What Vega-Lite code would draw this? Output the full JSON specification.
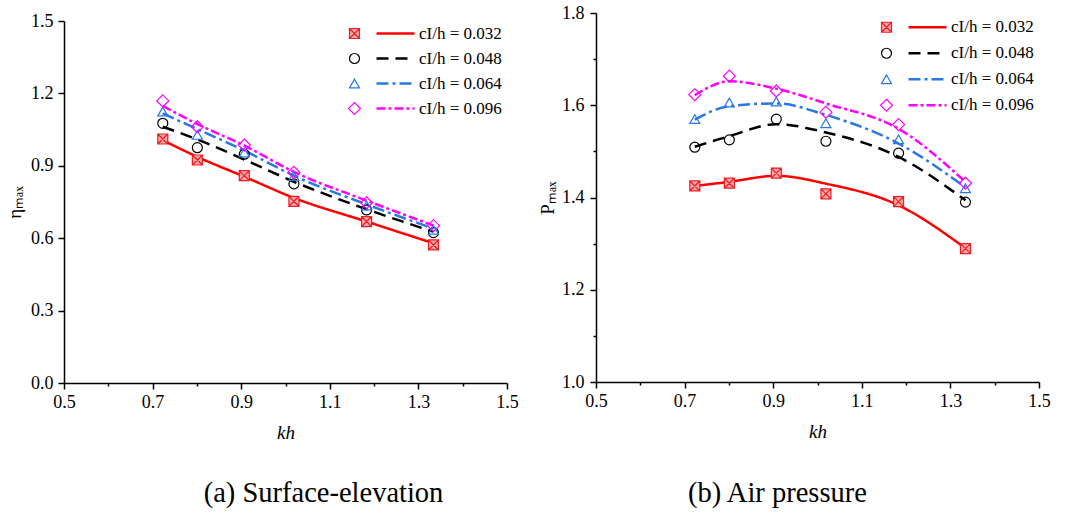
{
  "$schema": "https://vega.github.io/schema/vega-lite/v6.json",
  "background": "white",
  "padding": {"left": 5, "top": 4, "right": 5, "bottom": 5},
  "spacing": 19,
  "datasets": {
    "etaPts": [
      {"kh": 0.723, "v": 1.011, "case": "0.032"}, {"kh": 0.801, "v": 0.924, "case": "0.032"}, {"kh": 0.907, "v": 0.859, "case": "0.032"}, {"kh": 1.019, "v": 0.753, "case": "0.032"}, {"kh": 1.183, "v": 0.669, "case": "0.032"}, {"kh": 1.334, "v": 0.572, "case": "0.032"},
      {"kh": 0.723, "v": 1.076, "case": "0.048"}, {"kh": 0.801, "v": 0.975, "case": "0.048"}, {"kh": 0.907, "v": 0.948, "case": "0.048"}, {"kh": 1.019, "v": 0.825, "case": "0.048"}, {"kh": 1.183, "v": 0.717, "case": "0.048"}, {"kh": 1.334, "v": 0.623, "case": "0.048"},
      {"kh": 0.723, "v": 1.125, "case": "0.064"}, {"kh": 0.801, "v": 1.028, "case": "0.064"}, {"kh": 0.907, "v": 0.955, "case": "0.064"}, {"kh": 1.019, "v": 0.857, "case": "0.064"}, {"kh": 1.183, "v": 0.735, "case": "0.064"}, {"kh": 1.334, "v": 0.635, "case": "0.064"},
      {"kh": 0.723, "v": 1.169, "case": "0.096"}, {"kh": 0.801, "v": 1.062, "case": "0.096"}, {"kh": 0.907, "v": 0.986, "case": "0.096"}, {"kh": 1.019, "v": 0.873, "case": "0.096"}, {"kh": 1.183, "v": 0.747, "case": "0.096"}, {"kh": 1.334, "v": 0.652, "case": "0.096"}
    ],
    "etaFit": [
      {"kh": 0.723, "v": 1.006, "curve": "cI/h = 0.032"}, {"kh": 0.801, "v": 0.937, "curve": "cI/h = 0.032"}, {"kh": 0.907, "v": 0.855, "curve": "cI/h = 0.032"}, {"kh": 1.019, "v": 0.767, "curve": "cI/h = 0.032"}, {"kh": 1.183, "v": 0.669, "curve": "cI/h = 0.032"}, {"kh": 1.334, "v": 0.579, "curve": "cI/h = 0.032"},
      {"kh": 0.723, "v": 1.062, "curve": "cI/h = 0.048"}, {"kh": 0.801, "v": 1.009, "curve": "cI/h = 0.048"}, {"kh": 0.907, "v": 0.926, "curve": "cI/h = 0.048"}, {"kh": 1.019, "v": 0.834, "curve": "cI/h = 0.048"}, {"kh": 1.183, "v": 0.720, "curve": "cI/h = 0.048"}, {"kh": 1.334, "v": 0.627, "curve": "cI/h = 0.048"},
      {"kh": 0.723, "v": 1.117, "curve": "cI/h = 0.064"}, {"kh": 0.801, "v": 1.052, "curve": "cI/h = 0.064"}, {"kh": 0.907, "v": 0.963, "curve": "cI/h = 0.064"}, {"kh": 1.019, "v": 0.859, "curve": "cI/h = 0.064"}, {"kh": 1.183, "v": 0.740, "curve": "cI/h = 0.064"}, {"kh": 1.334, "v": 0.640, "curve": "cI/h = 0.064"},
      {"kh": 0.723, "v": 1.148, "curve": "cI/h = 0.096"}, {"kh": 0.801, "v": 1.073, "curve": "cI/h = 0.096"}, {"kh": 0.907, "v": 0.984, "curve": "cI/h = 0.096"}, {"kh": 1.019, "v": 0.875, "curve": "cI/h = 0.096"}, {"kh": 1.183, "v": 0.756, "curve": "cI/h = 0.096"}, {"kh": 1.334, "v": 0.653, "curve": "cI/h = 0.096"}
    ],
    "pPts": [
      {"kh": 0.723, "v": 1.425, "case": "0.032"}, {"kh": 0.801, "v": 1.431, "case": "0.032"}, {"kh": 0.907, "v": 1.453, "case": "0.032"}, {"kh": 1.019, "v": 1.408, "case": "0.032"}, {"kh": 1.183, "v": 1.391, "case": "0.032"}, {"kh": 1.334, "v": 1.289, "case": "0.032"},
      {"kh": 0.723, "v": 1.509, "case": "0.048"}, {"kh": 0.801, "v": 1.525, "case": "0.048"}, {"kh": 0.907, "v": 1.570, "case": "0.048"}, {"kh": 1.019, "v": 1.522, "case": "0.048"}, {"kh": 1.183, "v": 1.496, "case": "0.048"}, {"kh": 1.334, "v": 1.390, "case": "0.048"},
      {"kh": 0.723, "v": 1.570, "case": "0.064"}, {"kh": 0.801, "v": 1.606, "case": "0.064"}, {"kh": 0.907, "v": 1.608, "case": "0.064"}, {"kh": 1.019, "v": 1.561, "case": "0.064"}, {"kh": 1.183, "v": 1.526, "case": "0.064"}, {"kh": 1.334, "v": 1.420, "case": "0.064"},
      {"kh": 0.723, "v": 1.623, "case": "0.096"}, {"kh": 0.801, "v": 1.663, "case": "0.096"}, {"kh": 0.907, "v": 1.631, "case": "0.096"}, {"kh": 1.019, "v": 1.585, "case": "0.096"}, {"kh": 1.183, "v": 1.558, "case": "0.096"}, {"kh": 1.334, "v": 1.431, "case": "0.096"}
    ],
    "pFit": [
      {"kh": 0.723, "v": 1.425, "curve": "cI/h = 0.032"}, {"kh": 0.801, "v": 1.434, "curve": "cI/h = 0.032"}, {"kh": 0.907, "v": 1.447, "curve": "cI/h = 0.032"}, {"kh": 1.019, "v": 1.430, "curve": "cI/h = 0.032"}, {"kh": 1.183, "v": 1.383, "curve": "cI/h = 0.032"}, {"kh": 1.334, "v": 1.290, "curve": "cI/h = 0.032"},
      {"kh": 0.723, "v": 1.510, "curve": "cI/h = 0.048"}, {"kh": 0.801, "v": 1.533, "curve": "cI/h = 0.048"}, {"kh": 0.907, "v": 1.559, "curve": "cI/h = 0.048"}, {"kh": 1.019, "v": 1.541, "curve": "cI/h = 0.048"}, {"kh": 1.183, "v": 1.488, "curve": "cI/h = 0.048"}, {"kh": 1.334, "v": 1.394, "curve": "cI/h = 0.048"},
      {"kh": 0.723, "v": 1.569, "curve": "cI/h = 0.064"}, {"kh": 0.801, "v": 1.598, "curve": "cI/h = 0.064"}, {"kh": 0.907, "v": 1.604, "curve": "cI/h = 0.064"}, {"kh": 1.019, "v": 1.579, "curve": "cI/h = 0.064"}, {"kh": 1.183, "v": 1.517, "curve": "cI/h = 0.064"}, {"kh": 1.334, "v": 1.422, "curve": "cI/h = 0.064"},
      {"kh": 0.723, "v": 1.622, "curve": "cI/h = 0.096"}, {"kh": 0.801, "v": 1.652, "curve": "cI/h = 0.096"}, {"kh": 0.907, "v": 1.636, "curve": "cI/h = 0.096"}, {"kh": 1.019, "v": 1.604, "curve": "cI/h = 0.096"}, {"kh": 1.183, "v": 1.549, "curve": "cI/h = 0.096"}, {"kh": 1.334, "v": 1.434, "curve": "cI/h = 0.096"}
    ]
  },
  "hconcat": [
    {
      "width": 443,
      "height": 370,
      "title": {"text": "(a) Surface-elevation", "orient": "bottom", "font": "Liberation Serif", "fontSize": 28.5, "fontWeight": "normal", "color": "black", "offset": 37, "dx": 38},
      "layer": [
        {
          "data": {"name": "etaFit"},
          "mark": {"type": "line", "interpolate": "monotone", "strokeWidth": 2.5},
          "encoding": {
            "x": {"field": "kh", "type": "quantitative", "scale": {"domain": [0.5, 1.5], "nice": false, "zero": false},
              "axis": {"title": "kh", "titleFontStyle": "italic", "values": [0.5, 0.6, 0.7, 0.8, 0.9, 1.0, 1.1, 1.2, 1.3, 1.4, 1.5],
                "labelExpr": "round(datum.value*10) % 2 == 1 ? format(datum.value, '.1f') : ''",
                "tickSize": {"condition": {"test": "round(datum.value*10) % 2 == 1", "value": 6}, "value": 3},
                "labelPadding": 4, "titlePadding": 12, "labelFlush": false, "labelOverlap": false}},
            "y": {"field": "v", "type": "quantitative", "scale": {"domain": [0, 1.5], "range": [370, 8], "nice": false, "zero": false},
              "axis": {"title": "ηₘₐₓ", "values": [0, 0.15, 0.3, 0.45, 0.6, 0.75, 0.9, 1.05, 1.2, 1.35, 1.5],
                "labelExpr": "round(datum.value*100) % 30 == 0 ? format(datum.value, '.1f') : ''",
                "tickSize": {"condition": {"test": "round(datum.value*100) % 30 == 0", "value": 6}, "value": 3},
                "labelPadding": 5, "titlePadding": 6, "labelFlush": false, "labelOverlap": false}},
            "color": {"field": "curve", "type": "nominal",
              "scale": {"domain": ["cI/h = 0.032", "cI/h = 0.048", "cI/h = 0.064", "cI/h = 0.096"], "range": ["#ff0000", "#000000", "#2878e6", "#ff00ff"]},
              "legend": {"orient": "none", "legendX": 311, "legendY": 8, "title": null, "symbolSize": 1444, "symbolStrokeWidth": 2.5, "clipHeight": 25, "rowPadding": 0, "labelOffset": 3, "labelFontSize": 17, "padding": 0}},
            "strokeDash": {"field": "curve", "type": "nominal",
              "scale": {"domain": ["cI/h = 0.032", "cI/h = 0.048", "cI/h = 0.064", "cI/h = 0.096"], "range": [[1, 0], [12, 7], [12, 4, 3, 4], [9, 3, 3, 3]]},
              "legend": {"orient": "none", "legendX": 311, "legendY": 8, "title": null, "symbolSize": 1444, "symbolStrokeWidth": 2.5, "clipHeight": 25, "rowPadding": 0, "labelOffset": 3, "labelFontSize": 17, "padding": 0}}
          }
        },
        {
          "data": {"name": "etaPts"},
          "mark": {"type": "point", "size": 100, "strokeWidth": 1.2, "opacity": 1},
          "encoding": {
            "x": {"field": "kh", "type": "quantitative"},
            "y": {"field": "v", "type": "quantitative"},
            "shape": {"field": "case", "type": "nominal",
              "scale": {"domain": ["0.032", "0.048", "0.064", "0.096"], "range": ["M-1,-1H1V1H-1Z M-1,-1L1,1 M-1,1L1,-1", "circle", "triangle-up", "M0,-1.2L1.2,0L0,1.2L-1.2,0Z"]},
              "legend": {"orient": "none", "legendX": 282, "legendY": 8, "title": null, "labelExpr": "''", "symbolSize": 100, "symbolStrokeWidth": 1.2, "clipHeight": 25, "rowPadding": 0, "labelOffset": 0, "padding": 0}},
            "stroke": {"field": "case", "type": "nominal",
              "scale": {"domain": ["0.032", "0.048", "0.064", "0.096"], "range": ["#ee1c24", "#000000", "#2878e6", "#ff00ff"]},
              "legend": {"orient": "none", "legendX": 282, "legendY": 8, "title": null, "labelExpr": "''", "symbolSize": 100, "symbolStrokeWidth": 1.2, "clipHeight": 25, "rowPadding": 0, "labelOffset": 0, "padding": 0}},
            "fill": {"field": "case", "type": "nominal",
              "scale": {"domain": ["0.032", "0.048", "0.064", "0.096"], "range": ["#f9a8a8", "transparent", "transparent", "transparent"]},
              "legend": {"orient": "none", "legendX": 282, "legendY": 8, "title": null, "labelExpr": "''", "symbolSize": 100, "symbolStrokeWidth": 1.2, "clipHeight": 25, "rowPadding": 0, "labelOffset": 0, "padding": 0}}
          }
        }
      ]
    },
    {
      "width": 443,
      "height": 369,
      "title": {"text": "(b) Air pressure", "orient": "bottom", "font": "Liberation Serif", "fontSize": 28.5, "fontWeight": "normal", "color": "black", "offset": 38, "dx": -40},
      "layer": [
        {
          "data": {"name": "pFit"},
          "mark": {"type": "line", "interpolate": "monotone", "strokeWidth": 2.5},
          "encoding": {
            "x": {"field": "kh", "type": "quantitative", "scale": {"domain": [0.5, 1.5], "nice": false, "zero": false},
              "axis": {"title": "kh", "titleFontStyle": "italic", "values": [0.5, 0.6, 0.7, 0.8, 0.9, 1.0, 1.1, 1.2, 1.3, 1.4, 1.5],
                "labelExpr": "round(datum.value*10) % 2 == 1 ? format(datum.value, '.1f') : ''",
                "tickSize": {"condition": {"test": "round(datum.value*10) % 2 == 1", "value": 6}, "value": 3},
                "labelPadding": 4, "titlePadding": 12, "labelFlush": false, "labelOverlap": false}},
            "y": {"field": "v", "type": "quantitative", "scale": {"domain": [1.0, 1.8], "nice": false, "zero": false},
              "axis": {"title": "Pₘₐₓ", "values": [1.0, 1.1, 1.2, 1.3, 1.4, 1.5, 1.6, 1.7, 1.8],
                "labelExpr": "round(datum.value*10) % 2 == 0 ? format(datum.value, '.1f') : ''",
                "tickSize": {"condition": {"test": "round(datum.value*10) % 2 == 0", "value": 6}, "value": 3},
                "labelPadding": 6, "titlePadding": 4, "labelFlush": false, "labelOverlap": false}},
            "color": {"field": "curve", "type": "nominal",
              "scale": {"domain": ["cI/h = 0.032", "cI/h = 0.048", "cI/h = 0.064", "cI/h = 0.096"], "range": ["#ff0000", "#000000", "#2878e6", "#ff00ff"]},
              "legend": {"orient": "none", "legendX": 311, "legendY": 1.5, "title": null, "symbolSize": 1444, "symbolStrokeWidth": 2.5, "clipHeight": 25.5, "rowPadding": 0, "labelOffset": 3, "labelFontSize": 17, "padding": 0}},
            "strokeDash": {"field": "curve", "type": "nominal",
              "scale": {"domain": ["cI/h = 0.032", "cI/h = 0.048", "cI/h = 0.064", "cI/h = 0.096"], "range": [[1, 0], [12, 7], [12, 4, 3, 4], [9, 3, 3, 3]]},
              "legend": {"orient": "none", "legendX": 311, "legendY": 1.5, "title": null, "symbolSize": 1444, "symbolStrokeWidth": 2.5, "clipHeight": 25.5, "rowPadding": 0, "labelOffset": 3, "labelFontSize": 17, "padding": 0}}
          }
        },
        {
          "data": {"name": "pPts"},
          "mark": {"type": "point", "size": 100, "strokeWidth": 1.2, "opacity": 1},
          "encoding": {
            "x": {"field": "kh", "type": "quantitative"},
            "y": {"field": "v", "type": "quantitative"},
            "shape": {"field": "case", "type": "nominal",
              "scale": {"domain": ["0.032", "0.048", "0.064", "0.096"], "range": ["M-1,-1H1V1H-1Z M-1,-1L1,1 M-1,1L1,-1", "circle", "triangle-up", "M0,-1.2L1.2,0L0,1.2L-1.2,0Z"]},
              "legend": {"orient": "none", "legendX": 282, "legendY": 1.5, "title": null, "labelExpr": "''", "symbolSize": 100, "symbolStrokeWidth": 1.2, "clipHeight": 25.5, "rowPadding": 0, "labelOffset": 0, "padding": 0}},
            "stroke": {"field": "case", "type": "nominal",
              "scale": {"domain": ["0.032", "0.048", "0.064", "0.096"], "range": ["#ee1c24", "#000000", "#2878e6", "#ff00ff"]},
              "legend": {"orient": "none", "legendX": 282, "legendY": 1.5, "title": null, "labelExpr": "''", "symbolSize": 100, "symbolStrokeWidth": 1.2, "clipHeight": 25.5, "rowPadding": 0, "labelOffset": 0, "padding": 0}},
            "fill": {"field": "case", "type": "nominal",
              "scale": {"domain": ["0.032", "0.048", "0.064", "0.096"], "range": ["#f9a8a8", "transparent", "transparent", "transparent"]},
              "legend": {"orient": "none", "legendX": 282, "legendY": 1.5, "title": null, "labelExpr": "''", "symbolSize": 100, "symbolStrokeWidth": 1.2, "clipHeight": 25.5, "rowPadding": 0, "labelOffset": 0, "padding": 0}}
          }
        }
      ]
    }
  ],
  "resolve": {
    "scale": {"x": "independent", "y": "independent", "color": "independent", "strokeDash": "independent", "shape": "independent", "stroke": "independent", "fill": "independent"},
    "legend": {"color": "independent", "strokeDash": "independent", "shape": "independent", "stroke": "independent", "fill": "independent"}
  },
  "config": {
    "view": {"stroke": null},
    "axis": {"grid": false, "domainColor": "black", "domainWidth": 1.5, "tickColor": "black", "tickWidth": 1.5,
      "labelFont": "Liberation Serif", "labelFontSize": 18, "labelColor": "black",
      "titleFont": "Liberation Serif", "titleFontSize": 19, "titleColor": "black", "titleFontWeight": "normal"},
    "legend": {"labelFont": "Liberation Serif", "labelFontSize": 17, "labelColor": "black"}
  }
}
